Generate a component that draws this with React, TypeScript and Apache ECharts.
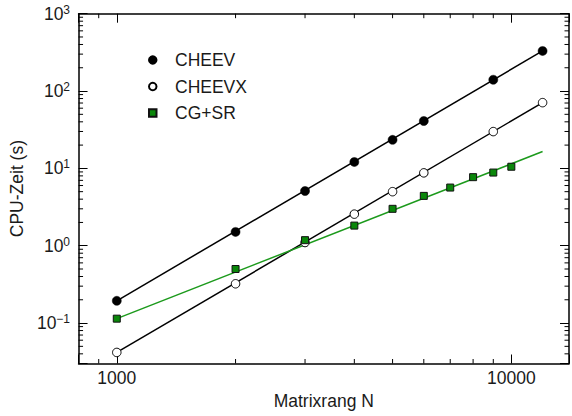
import React, { useEffect, useRef } from 'react';
import * as echarts from 'echarts';

// Measured run times (seconds) against matrix order N
const cheevN = [1000, 2000, 3000, 4000, 5000, 6000, 9000, 12000];
const cheevTime = [0.194, 1.51, 5.1, 12.1, 23.4, 41, 140, 330];

const cheevxN = [1000, 2000, 3000, 4000, 5000, 6000, 9000, 12000];
const cheevxTime = [0.0417, 0.322, 1.1, 2.56, 5.0, 8.75, 29.9, 70.8];

const cgsrN = [1000, 2000, 3000, 4000, 5000, 6000, 7000, 8000, 9000, 10000];
const cgsrTime = [0.114, 0.5, 1.18, 1.82, 3.0, 4.41, 5.65, 7.7, 8.83, 10.5];

// Power-law fits (straight on log-log axes), given by their end points
const cheevFit = [[1000, 0.194], [12000, 330]];
const cheevxFit = [[1000, 0.0417], [12000, 70.8]];
const cgsrFit = [[1000, 0.114], [12000, 16.5]];

// Axis ranges
const xMin = 800;
const xMax = 14000;
const yMin = 0.03;
const yMax = 1000;

// Minor tick positions
const xMinorTicks = [900, 2000, 3000, 4000, 5000, 6000, 7000, 8000, 9000];
const yMinorTicks = [
  0.04, 0.05, 0.06, 0.07, 0.08, 0.09,
  0.2, 0.3, 0.4, 0.5, 0.6, 0.7, 0.8, 0.9,
  2, 3, 4, 5, 6, 7, 8, 9,
  20, 30, 40, 50, 60, 70, 80, 90,
  200, 300, 400, 500, 600, 700, 800, 900,
];

const FONT = '"Liberation Sans", Arial, Helvetica, sans-serif';
const TEXT = '#1a1a1a';
const FS = 17.5;

const isDecade = (v: number) => {
  const l = Math.log10(v);
  return Math.abs(l - Math.round(l)) < 1e-6;
};

const pairs = (xs: number[], ys: number[]) => xs.map((x, i) => [x, ys[i]]);

const tickStyle = { stroke: '#000', lineWidth: 1 };

export default function App() {
  const ref = useRef<HTMLDivElement>(null);

  useEffect(() => {
    const chart = echarts.init(ref.current!, null, { renderer: 'svg' });

    const axisLine = { show: true, lineStyle: { color: '#000', width: 1.5 } };
    const majorTick = { show: true, inside: true, length: 9, lineStyle: { color: '#000', width: 1 } };

    const option: any = {
      animation: false,
      backgroundColor: '#fff',
      textStyle: { fontFamily: FONT },
      grid: { left: 75.7, top: 13.7, width: 499.8, height: 349.8, containLabel: false },
      legend: {
        data: ['CHEEV', 'CHEEVX', 'CG+SR'],
        orient: 'vertical',
        left: 143,
        top: 46,
        itemWidth: 7.5,
        itemHeight: 7.5,
        itemGap: 8.5,
        selectedMode: false,
        textStyle: { fontSize: FS, color: TEXT, fontFamily: FONT, padding: [0, 0, 0, 13.5] },
      },
      xAxis: [
        {
          type: 'log',
          logBase: 10,
          min: xMin,
          max: xMax,
          position: 'bottom',
          name: 'Matrixrang N',
          nameLocation: 'middle',
          nameGap: 28,
          nameTextStyle: { fontSize: FS, color: TEXT, fontFamily: FONT },
          axisLine,
          axisTick: majorTick,
          splitLine: { show: false },
          axisLabel: {
            margin: 5,
            fontSize: FS,
            color: TEXT,
            fontFamily: FONT,
            formatter: (v: number) => (isDecade(v) ? String(Math.round(v)) : ''),
          },
        },
        {
          type: 'log',
          logBase: 10,
          min: xMin,
          max: xMax,
          position: 'top',
          axisLine,
          axisTick: majorTick,
          splitLine: { show: false },
          axisLabel: { show: false },
        },
      ],
      yAxis: [
        {
          type: 'log',
          logBase: 10,
          min: yMin,
          max: yMax,
          position: 'left',
          name: 'CPU-Zeit (s)',
          nameLocation: 'middle',
          nameGap: 47,
          nameTextStyle: { fontSize: FS, color: TEXT, fontFamily: FONT },
          axisLine,
          axisTick: majorTick,
          splitLine: { show: false },
          axisLabel: {
            margin: 8.5,
            color: TEXT,
            fontFamily: FONT,
            formatter: (v: number) => {
              if (!isDecade(v)) return '';
              const e = Math.round(Math.log10(v));
              return `{b|10}{s|${e < 0 ? '\u2212' + -e : e}}`;
            },
            rich: {
              b: { fontSize: FS, color: TEXT, fontFamily: FONT, lineHeight: 20 },
              s: { fontSize: 12, color: TEXT, fontFamily: FONT, lineHeight: 12, verticalAlign: 'top', padding: [0, 0, 2, 0] },
            },
          },
        },
        {
          type: 'log',
          logBase: 10,
          min: yMin,
          max: yMax,
          position: 'right',
          axisLine,
          axisTick: majorTick,
          splitLine: { show: false },
          axisLabel: { show: false },
        },
      ],
      series: [
        // minor ticks on bottom and top axes
        {
          type: 'custom',
          name: 'xminor',
          silent: true,
          xAxisIndex: 0,
          yAxisIndex: 0,
          data: xMinorTicks.map((v) => [v, yMin]),
          renderItem: (params: any, api: any) => {
            const cs = params.coordSys;
            const x = api.coord([api.value(0), yMin])[0];
            return {
              type: 'group',
              children: [
                { type: 'line', shape: { x1: x, y1: cs.y + cs.height, x2: x, y2: cs.y + cs.height - 4.5 }, style: tickStyle },
                { type: 'line', shape: { x1: x, y1: cs.y, x2: x, y2: cs.y + 4.5 }, style: tickStyle },
              ],
            };
          },
        },
        // minor ticks on left and right axes
        {
          type: 'custom',
          name: 'yminor',
          silent: true,
          xAxisIndex: 0,
          yAxisIndex: 0,
          data: yMinorTicks.map((v) => [xMin, v]),
          renderItem: (params: any, api: any) => {
            const cs = params.coordSys;
            const y = api.coord([xMin, api.value(1)])[1];
            return {
              type: 'group',
              children: [
                { type: 'line', shape: { x1: cs.x, y1: y, x2: cs.x + 4.5, y2: y }, style: tickStyle },
                { type: 'line', shape: { x1: cs.x + cs.width, y1: y, x2: cs.x + cs.width - 4.5, y2: y }, style: tickStyle },
              ],
            };
          },
        },
        {
          type: 'line',
          name: 'CHEEV fit',
          data: cheevFit,
          showSymbol: false,
          symbol: 'none',
          lineStyle: { color: '#000', width: 1.5 },
          z: 2,
        },
        {
          type: 'line',
          name: 'CHEEVX fit',
          data: cheevxFit,
          showSymbol: false,
          symbol: 'none',
          lineStyle: { color: '#000', width: 1.5 },
          z: 2,
        },
        {
          type: 'line',
          name: 'CG+SR fit',
          data: cgsrFit,
          showSymbol: false,
          symbol: 'none',
          lineStyle: { color: '#1c9a1c', width: 1.5 },
          z: 2,
        },
        {
          type: 'scatter',
          name: 'CHEEV',
          data: pairs(cheevN, cheevTime),
          symbol: 'circle',
          symbolSize: 9,
          itemStyle: { color: '#000', borderColor: '#000', borderWidth: 0.5, opacity: 1 },
          z: 3,
        },
        {
          type: 'scatter',
          name: 'CHEEVX',
          data: pairs(cheevxN, cheevxTime),
          symbol: 'circle',
          symbolSize: 8.5,
          itemStyle: { color: '#fff', borderColor: '#000', borderWidth: 1, opacity: 1 },
          z: 3,
        },
        {
          type: 'scatter',
          name: 'CG+SR',
          data: pairs(cgsrN, cgsrTime),
          symbol: 'rect',
          symbolSize: 7,
          itemStyle: { color: '#0a870a', borderColor: '#111', borderWidth: 1, opacity: 1 },
          z: 4,
        },
      ],
    };

    chart.setOption(option);
    return () => chart.dispose();
  }, []);

  return (
    <div
      ref={ref}
      style={{ position: 'fixed', left: 0, top: 0, width: 572, height: 416, background: '#fff' }}
    />
  );
}
